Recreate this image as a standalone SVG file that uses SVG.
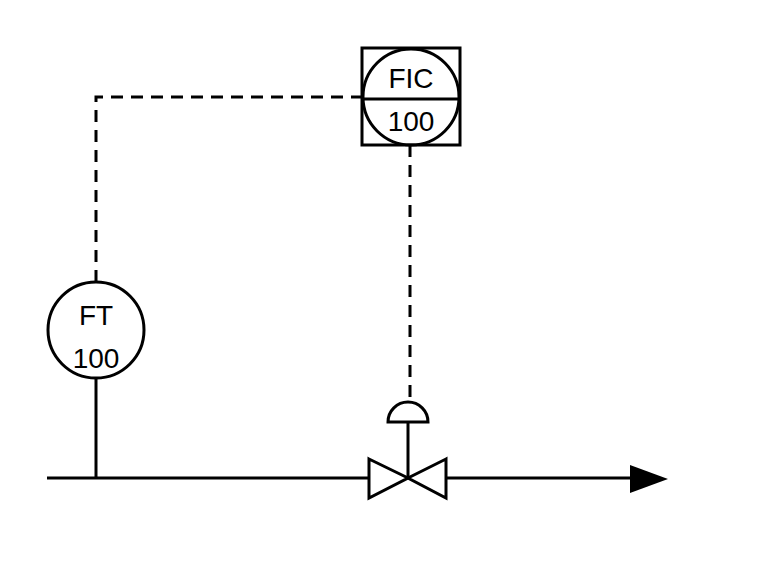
<svg xmlns="http://www.w3.org/2000/svg" width="758" height="566" viewBox="0 0 758 566">
<style>
.s{fill:none;stroke:#000;stroke-width:3}
.d{fill:none;stroke:#000;stroke-width:3;stroke-dasharray:12 8}
.t{font-family:"Liberation Sans",Arial,sans-serif;font-size:28px;text-anchor:middle;fill:#000}
</style>
<rect width="758" height="566" fill="#fff"/>
<g id="connectors">
<path class="d" d="M96 282 V97 H362"/>
<path class="d" d="M410 145 V403"/>
<path class="s" d="M47 478 H369 M446 478 H632"/>
<polygon points="630,465 668,479 630,493" fill="#000"/>
<path class="s" d="M96 378 V478"/>
</g>
<g id="FIC">
<rect class="s" x="362" y="48" width="98" height="97" fill="#fff"/>
<circle class="s" cx="411" cy="97" r="48"/>
<line class="s" x1="363" y1="99" x2="459" y2="99"/>
<text class="t" x="411" y="88">FIC</text>
<text class="t" x="411" y="131">100</text>
</g>
<g id="FT">
<circle class="s" cx="96" cy="330" r="48" fill="#fff"/>
<text class="t" x="96" y="325">FT</text>
<text class="t" x="96" y="368">100</text>
</g>
<g id="valve">
<polygon class="s" points="369,459 408,478 369,498"/>
<polygon class="s" points="446,459 408,478 446,498"/>
<line class="s" x1="408" y1="478" x2="408" y2="422"/>
<path class="s" d="M388 422 A20 20 0 0 1 428 422 Z"/>
</g>
</svg>
